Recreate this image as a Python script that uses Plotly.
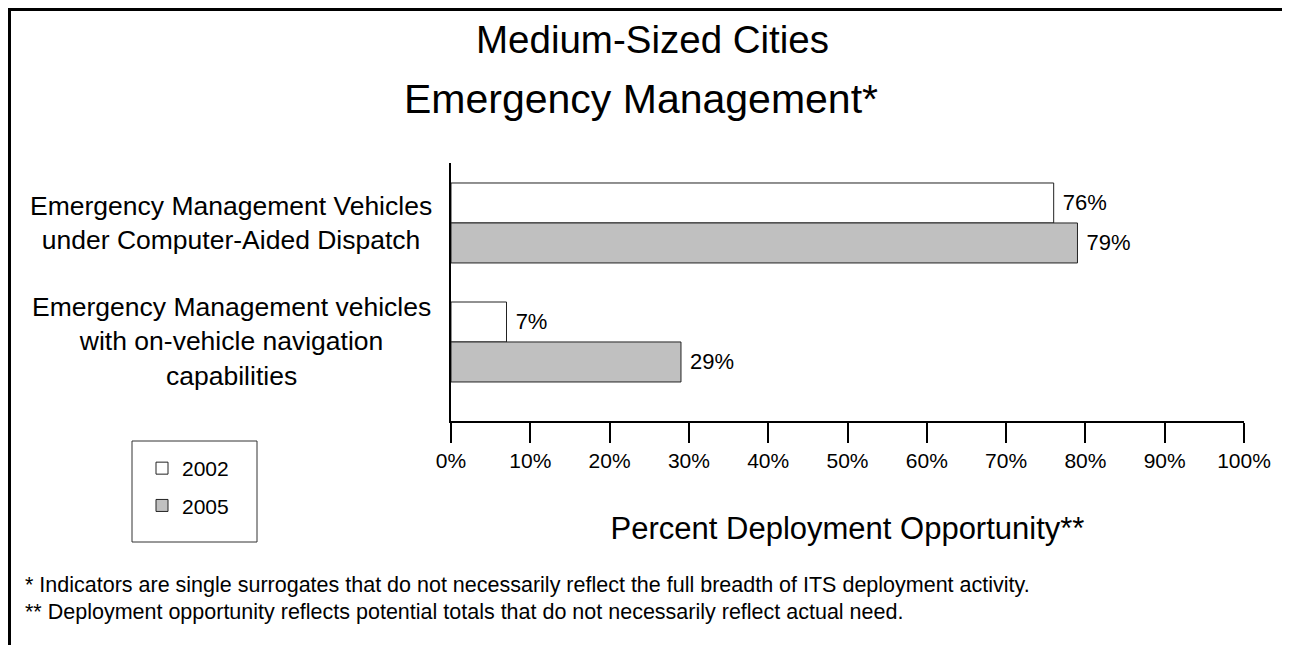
import plotly.graph_objects as go

# ---------------- data ----------------
categories = [
    "Emergency Management Vehicles<br>under Computer-Aided Dispatch",
    "Emergency Management vehicles<br>with on-vehicle navigation<br>capabilities",
]
series_names = ["2002", "2005"]
values_2002 = [76, 7]
values_2005 = [79, 29]
x_ticks = [0, 10, 20, 30, 40, 50, 60, 70, 80, 90, 100]
title_lines = ["Medium-Sized Cities", "Emergency Management*"]
x_title = "Percent Deployment Opportunity**"
footnotes = [
    "* Indicators are single surrogates that do not necessarily reflect the full breadth of ITS deployment activity.",
    "** Deployment opportunity reflects potential totals that do not necessarily reflect actual need.",
]

# ---------------- layout geometry (page pixels) ----------------
OFF = 8                      # page body margin offset
W, H = 1290, 645
L, R, T, B = 451, 1244, 163, 421  # plot area in page pixels
FONT = "Liberation Sans, Arial, Helvetica, sans-serif"


def px_x(px):
    return (px - L) / (R - L)


def px_y(py):
    return (B - py) / (B - T)


NBSP = "\u00a0"

fig = go.Figure()
fig.add_trace(go.Bar(
    name=series_names[0], y=categories, x=values_2002, orientation="h",
    legendgroup="a",
    marker=dict(color="white", line=dict(color="#222222", width=1)),
    text=[f"{NBSP}{v}%" for v in values_2002], textposition="outside",
    textfont=dict(size=22, color="black", family=FONT), cliponaxis=False,
))
fig.add_trace(go.Bar(
    name=series_names[1], y=categories, x=values_2005, orientation="h",
    legendgroup="b",
    marker=dict(color="#C0C0C0", line=dict(color="#222222", width=1)),
    text=[f"{NBSP}{v}%" for v in values_2005], textposition="outside",
    textfont=dict(size=22, color="black", family=FONT), cliponaxis=False,
))

annotations = []
for cat in categories:
    annotations.append(dict(
        text=cat, xref="paper", yref="y", x=px_x(231), y=cat,
        xanchor="center", yanchor="middle", align="center", showarrow=False,
        font=dict(size=26.5, color="black", family=FONT),
    ))
annotations.append(dict(text=title_lines[0], xref="paper", yref="paper",
                        x=px_x(652), y=px_y(39), xanchor="center", yanchor="middle",
                        showarrow=False, font=dict(size=38.5, color="black", family=FONT)))
annotations.append(dict(text=title_lines[1], xref="paper", yref="paper",
                        x=px_x(641), y=px_y(99), xanchor="center", yanchor="middle",
                        showarrow=False, font=dict(size=41, color="black", family=FONT)))
for i, fn in enumerate(footnotes):
    annotations.append(dict(text=fn, xref="paper", yref="paper",
                            x=px_x(23), y=px_y(585 + 27 * i), xanchor="left", yanchor="middle",
                            showarrow=False, font=dict(size=21.5, color="black", family=FONT)))

frame = dict(type="line", xref="paper", yref="paper", line=dict(color="black", width=3))
shapes = [
    dict(frame, x0=px_x(OFF + 1.5), x1=px_x(OFF + 1.5), y0=px_y(OFF), y1=px_y(700)),
    dict(frame, x0=px_x(OFF), x1=px_x(1287.5), y0=px_y(OFF + 1.5), y1=px_y(OFF + 1.5)),
    dict(frame, x0=px_x(1286), x1=px_x(1286), y0=px_y(OFF), y1=px_y(700)),
    # legend box
    dict(type="rect", xref="paper", yref="paper",
         x0=px_x(132), x1=px_x(257), y0=px_y(441), y1=px_y(542),
         line=dict(color="#333333", width=1), fillcolor="rgba(0,0,0,0)"),
]

fig.update_layout(
    width=W, height=H,
    margin=dict(l=L - OFF, r=W - (R - OFF), t=T - OFF, b=H - (B - OFF), pad=0),
    paper_bgcolor="white", plot_bgcolor="white",
    font=dict(family=FONT, color="black"),
    barmode="group", bargap=0.328, bargroupgap=0,
    showlegend=True,
    legend=dict(
        x=px_x(142), y=px_y(448), xanchor="left", yanchor="top",
        bgcolor="rgba(0,0,0,0)", borderwidth=0,
        font=dict(size=21, color="black", family=FONT),
        traceorder="grouped", tracegroupgap=7, itemclick=False,
    ),
    xaxis=dict(
        range=[0, 100], tickvals=x_ticks, ticktext=[f"{t}%" for t in x_ticks],
        ticks="outside", ticklen=20, tickwidth=1.5, tickcolor="black",
        showline=True, linecolor="black", linewidth=1.5,
        showgrid=False, zeroline=False,
        tickfont=dict(size=21, color="black", family=FONT),
        ticklabelstandoff=0,
        title=dict(text=x_title, font=dict(size=31, color="black", family=FONT), standoff=46),
    ),
    yaxis=dict(
        type="category", categoryarray=categories, categoryorder="array",
        range=[1.664, -0.504],
        showline=True, linecolor="black", linewidth=1.5,
        showgrid=False, zeroline=False, ticks="", showticklabels=False,
    ),
    annotations=annotations,
    shapes=shapes,
)

fig.write_html("out.html")
